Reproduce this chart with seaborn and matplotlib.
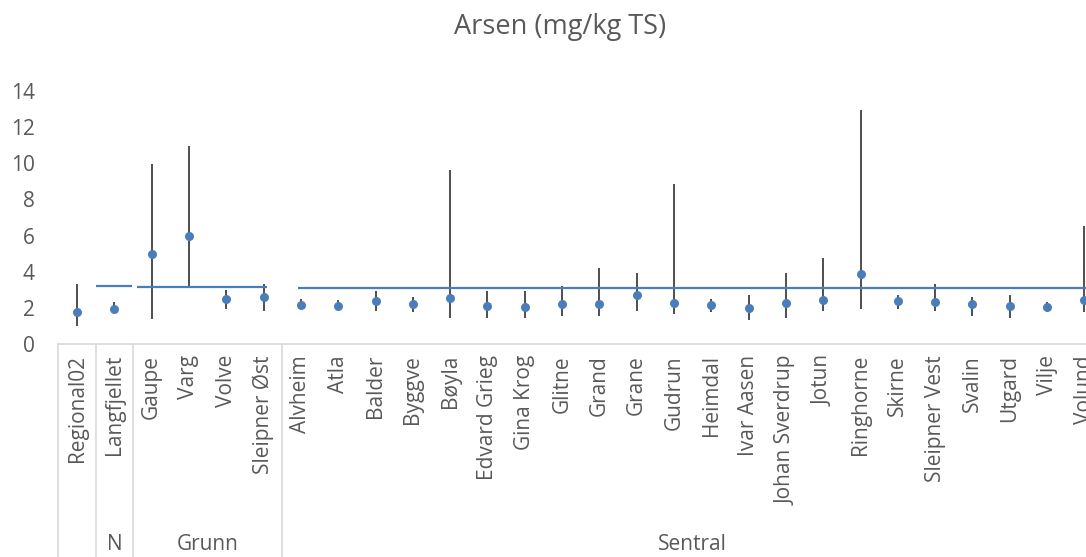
import numpy as np
import pandas as pd
import matplotlib
matplotlib.use("Agg")
import matplotlib.pyplot as plt
import seaborn as sns

# data
stations = ["Regional02", "Langfjellet", "Gaupe", "Varg", "Volve", "Sleipner Øst",
            "Alvheim", "Atla", "Balder", "Byggve", "Bøyla", "Edvard Grieg", "Gina Krog",
            "Glitne", "Grand", "Grane", "Gudrun", "Heimdal", "Ivar Aasen",
            "Johan Sverdrup", "Jotun", "Ringhorne", "Skirne", "Sleipner Vest",
            "Svalin", "Utgard", "Vilje", "Volund"]
groups = [""] + ["N"] + ["Grunn"] * 4 + ["Sentral"] * 22
mean_vals = [1.75, 1.95, 5.0, 5.95, 2.5, 2.6,
             2.18, 2.08, 2.4, 2.23, 2.56, 2.12, 2.07,
             2.2, 2.21, 2.69, 2.27, 2.14, 1.97,
             2.25, 2.42, 3.86, 2.36, 2.34,
             2.2, 2.1, 2.05, 2.42]
min_vals = [1.0, 1.93, 1.4, 3.2, 1.94, 1.85,
            1.94, 2.0, 1.84, 1.75, 1.44, 1.44, 1.44,
            1.55, 1.55, 1.84, 1.64, 1.75, 1.35,
            1.44, 1.84, 1.94, 1.94, 1.84,
            1.55, 1.44, 1.75, 1.75]
max_vals = [3.3, 2.3, 9.95, 10.95, 3.0, 3.3,
            2.5, 2.43, 2.93, 2.62, 9.63, 2.93, 2.93,
            3.23, 4.22, 3.93, 8.85, 2.5, 2.73,
            3.93, 4.74, 12.95, 2.73, 3.3,
            2.62, 2.71, 2.3, 6.53]
# reference level per region group
ref_groups = ["N", "Grunn", "Sentral"]
ref_levels = [3.21, 3.17, 3.1]

df = pd.DataFrame({"stasjon": stations, "gruppe": groups,
                   "snitt": mean_vals, "min": min_vals, "max": max_vals})

sns.set_style("white")
plt.rcParams["font.family"] = ["Open Sans", "DejaVu Sans"]

grey = "#595959"
blue = "#4A7EBB"

fig = plt.figure(figsize=(10.86, 5.57), dpi=100)
W, H = 1086, 557
ax = fig.add_axes([58.4 / W, 1 - 344 / H, (1103 - 58.4) / W, (344 - 91) / H])

# min-max range lines
ax.vlines(df.index, df["min"], df["max"], color="#404040", lw=1.3, zorder=2)

# mean values
sns.stripplot(data=df, x="stasjon", y="snitt", jitter=False, color=blue,
              size=6.5, linewidth=0, ax=ax, zorder=3)

# reference lines per group
ref_extent = {"N": (0.5, 1.48), "Grunn": (1.62, 5.08), "Sentral": (5.93, 27.5)}
for g, lev in zip(ref_groups, ref_levels):
    x0, x1 = ref_extent[g]
    ax.plot([x0, x1], [lev, lev], color=blue, lw=1.6, zorder=2,
            solid_capstyle="butt")

ax.set_xlim(-0.5, len(stations) - 0.5)
ax.set_ylim(0, 14)
ax.set_yticks(range(0, 15, 2))
ax.set_xlabel("")
ax.set_ylabel("")
ax.tick_params(axis="y", length=0, pad=17, labelsize=15, labelcolor=grey)
ax.tick_params(axis="x", length=0, pad=8, labelsize=15, labelcolor=grey,
               labelrotation=90)
for s in ["left", "top", "right"]:
    ax.spines[s].set_visible(False)
ax.spines["bottom"].set_color("#d9d9d9")
ax.spines["bottom"].set_linewidth(1.2)

# group separators and labels below axis
trans = ax.get_xaxis_transform()
ybot = -(H - 344) / (344 - 91)
bounds = [i - 0.5 for i in range(len(groups)) if i == 0 or groups[i] != groups[i - 1]]
for b in bounds + [len(groups) - 0.5]:
    ax.plot([b, b], [0, ybot], color="#d9d9d9", lw=1.2, transform=trans,
            clip_on=False)
for g in ref_groups:
    idx = df.index[df["gruppe"] == g]
    ax.text(np.mean(idx), -(545 - 344) / (344 - 91), g, transform=trans,
            ha="center", va="center", fontsize=15, color=grey)

fig.text(560 / W, 1 - 27 / H, "Arsen (mg/kg TS)", ha="center", va="center",
         fontsize=19.5, color=grey)

fig.savefig("out.png", dpi=100)
